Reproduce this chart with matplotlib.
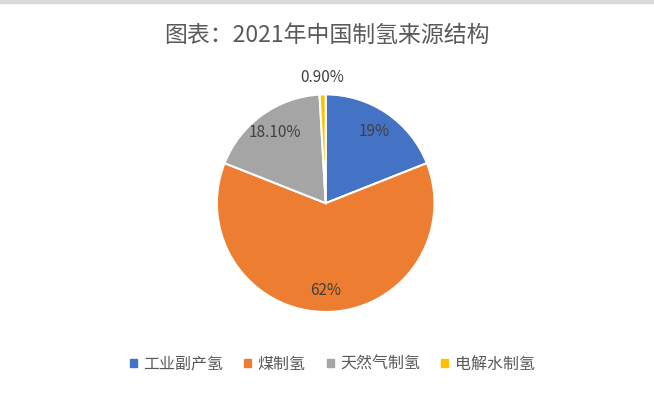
import matplotlib.pyplot as plt
import numpy as np

plt.rcParams['font.family'] = ['Noto Sans CJK SC', 'DejaVu Sans']

# 2021年中国制氢来源结构
categories = ["工业副产氢", "煤制氢", "天然气制氢", "电解水制氢"]
shares = [19.0, 62.0, 18.1, 0.9]
pct_labels = ["19%", "62%", "18.10%", "0.90%"]
colors = ["#4472C4", "#ED7D31", "#A5A5A5", "#FFC000"]

fig = plt.figure(figsize=(6.54, 3.93), dpi=100)
fig.patch.set_facecolor("#ffffff")

# thin grey strip at the top of the screenshot
fig.patches.append(plt.Rectangle((0, 0.992), 1, 0.008, transform=fig.transFigure,
                                 color="#d9d9d9", zorder=0))

fig.text(0.5, 0.91, "图表：2021年中国制氢来源结构", ha="center", va="center",
         fontsize=16.5, color="#595959")

ax = fig.add_axes([0.498 - 0.168, 0.483 - 0.28, 0.336, 0.56])
wedges, texts = ax.pie(shares, colors=colors, startangle=90, counterclock=False,
                       wedgeprops=dict(edgecolor="white", linewidth=1.5))
ax.set_xlim(-1.01, 1.01)
ax.set_ylim(-1.01, 1.01)
ax.set_aspect("equal")

for w, lab in zip(wedges, pct_labels):
    ang = np.deg2rad((w.theta1 + w.theta2) / 2)
    r = 1.16 if lab == "0.90%" else 0.8
    ax.text(r * np.cos(ang), r * np.sin(ang), lab, ha="center", va="center",
            fontsize=11, color="#404040", clip_on=False)

handles = [plt.Rectangle((0, 0), 1, 1, color=c) for c in colors]
fig.legend(handles, categories, loc="center", bbox_to_anchor=(0.508, 0.073), ncol=4,
           frameon=False, fontsize=11.5, labelcolor="#595959", handlelength=0.45,
           handleheight=0.45, handletextpad=0.4, columnspacing=1.3)

fig.savefig("out.png", dpi=100)
